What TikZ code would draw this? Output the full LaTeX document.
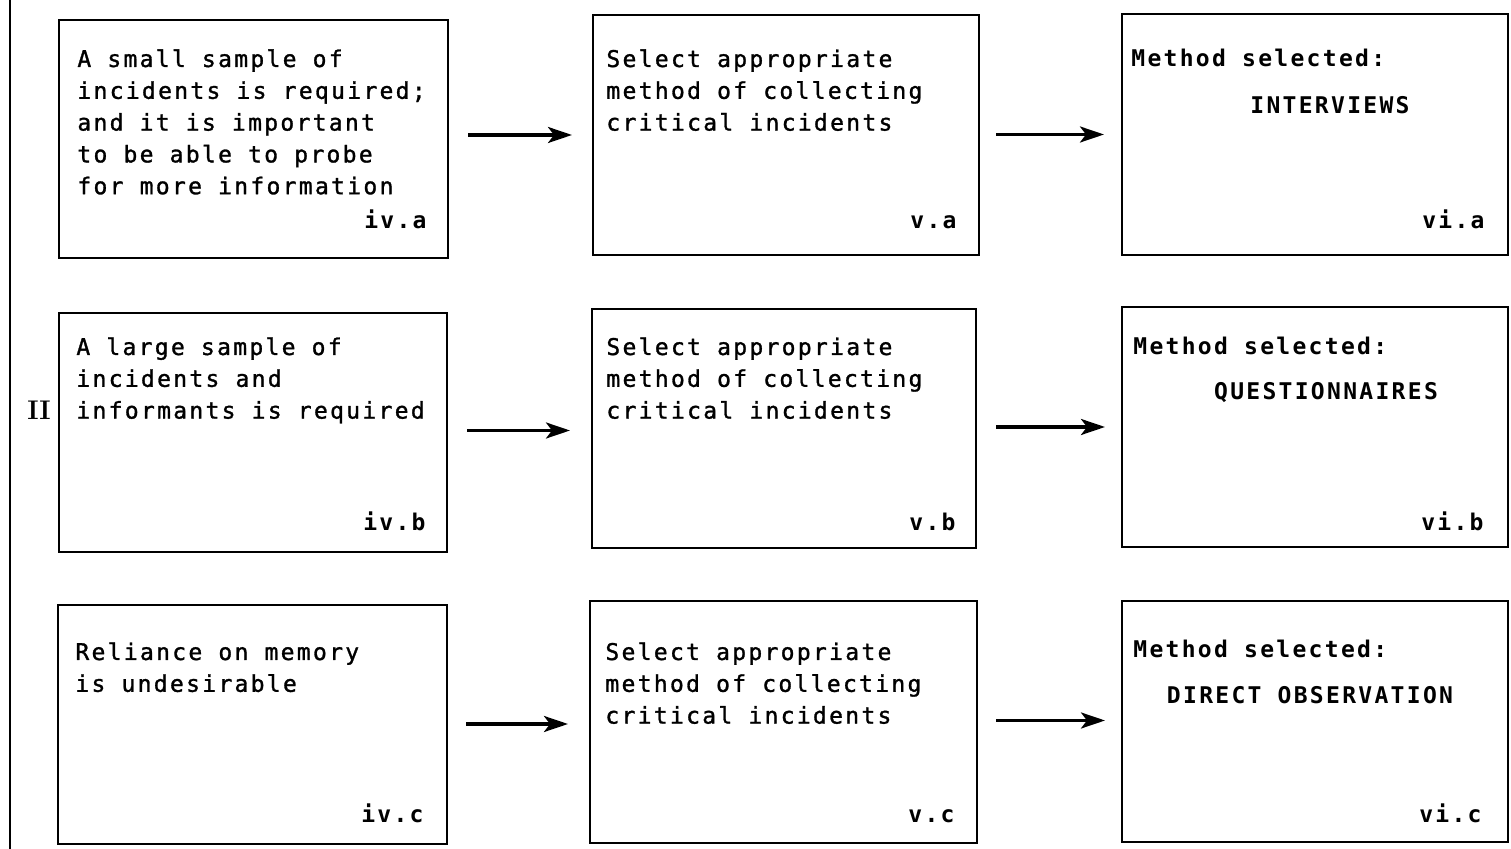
\documentclass[tikz,border=0pt]{standalone}
\usepackage{fontspec}
\usetikzlibrary{calc,arrows.meta}
\newfontfamily\tw[LetterSpace=10, FakeBold=1.3]{DejaVu Sans Mono}
\newfontfamily\twb[LetterSpace=10]{DejaVu Sans Mono Bold}
\newcommand\ml[1]{\begin{tabular}[t]{@{}l@{}}#1\end{tabular}}
\tikzset{
  box/.style={draw, line width=1.4pt, inner sep=0pt, outer sep=0pt, anchor=north west},
  txt/.style={anchor=base west, inner sep=0pt, font=\tw\fontsize{11.5}{15.9}\selectfont},
  btxt/.style={txt, font=\twb\fontsize{11.5}{15.9}\selectfont},
  lbl/.style={anchor=base east, inner sep=0pt, font=\twb\fontsize{11.5}{15.9}\selectfont},
  meth/.style={anchor=base, inner sep=0pt, font=\twb\fontsize{11.5}{15.9}\selectfont},
  arr/.style={line width=1.6pt, -{Stealth[length=12pt,width=8pt,inset=3pt]}}
}
\begin{document}
\begin{tikzpicture}[x=0.5pt,y=-0.5pt]
\useasboundingbox (0,0) rectangle (1511,849);
% left rule
\draw[line width=1pt] (10,0) -- (10,849);
\node[anchor=base, inner sep=0pt, font=\bfseries\fontsize{13.5}{13.5}\selectfont] (roman) at (39,420) {II};
% boxes
\node[box, minimum width=194.5pt, minimum height=119pt] (ia) at (59,20) {};
\node[box, minimum width=193pt, minimum height=120pt] (va) at (593,15) {};
\node[box, minimum width=193pt, minimum height=120.5pt] (via) at (1122,14) {};
\node[box, minimum width=194pt, minimum height=119.5pt] (ib) at (59,313) {};
\node[box, minimum width=192pt, minimum height=119.5pt] (vb) at (592,309) {};
\node[box, minimum width=193pt, minimum height=120pt] (vib) at (1122,307) {};
\node[box, minimum width=194.5pt, minimum height=119.5pt] (ic) at (58,605) {};
\node[box, minimum width=193.5pt, minimum height=121pt] (vc) at (590,601) {};
\node[box, minimum width=193pt, minimum height=120.5pt] (vic) at (1122,601) {};
% texts row 1
\node[txt] (tia) at (77,67) {\ml{A small sample of\\incidents is required;\\and it is important\\to be able to probe\\for more information}};
\node[txt] (tva) at (606,67) {\ml{Select appropriate\\method of collecting\\critical incidents}};
\node[btxt] (tvia) at (1131,67) {Method selected:};
\node[meth] (mvia) at (1330,114) {INTERVIEWS};
\node[lbl] (lia) at (427,229) {iv.a};
\node[lbl] (lva) at (957,229) {v.a};
\node[lbl] (lvia) at (1485,229) {vi.a};
% texts row 2
\node[txt] (tib) at (76,355) {\ml{A large sample of\\incidents and\\informants is required}};
\node[txt] (tvb) at (606,355) {\ml{Select appropriate\\method of collecting\\critical incidents}};
\node[btxt] (tvib) at (1133,355) {Method selected:};
\node[meth] (mvib) at (1326,400) {QUESTIONNAIRES};
\node[lbl] (lib) at (426,531) {iv.b};
\node[lbl] (lvb) at (956,531) {v.b};
\node[lbl] (lvib) at (1484,531) {vi.b};
% texts row 3
\node[txt] (tic) at (75,660) {\ml{Reliance on memory\\is undesirable}};
\node[txt] (tvc) at (605,660) {\ml{Select appropriate\\method of collecting\\critical incidents}};
\node[btxt] (tvic) at (1133,658) {Method selected:};
\node[meth] (mvic) at (1310,704) {DIRECT OBSERVATION};
\node[lbl] (lic) at (424,823) {iv.c};
\node[lbl] (lvc) at (955,823) {v.c};
\node[lbl] (lvic) at (1482,823) {vi.c};
% arrows
\draw[arr] ($(ia.east |- va.west)+(20,0)$) -- ($(va.west)+(-21,0)$);
\draw[arr] ($(va.east |- via.west)+(17,0)$) -- ($(via.west)+(-18,0)$);
\draw[arr] ($(ib.east |- vb.west)+(20,2)$) -- ($(vb.west)+(-22,2)$);
\draw[arr] ($(vb.east |- vib.west)+(20,0)$) -- ($(vib.west)+(-17,0)$);
\draw[arr] ($(ic.east |- vc.west)+(19,2)$) -- ($(vc.west)+(-22,2)$);
\draw[arr] ($(vc.east |- vic.west)+(19,-1)$) -- ($(vic.west)+(-17,-1)$);
\end{tikzpicture}
\end{document}
